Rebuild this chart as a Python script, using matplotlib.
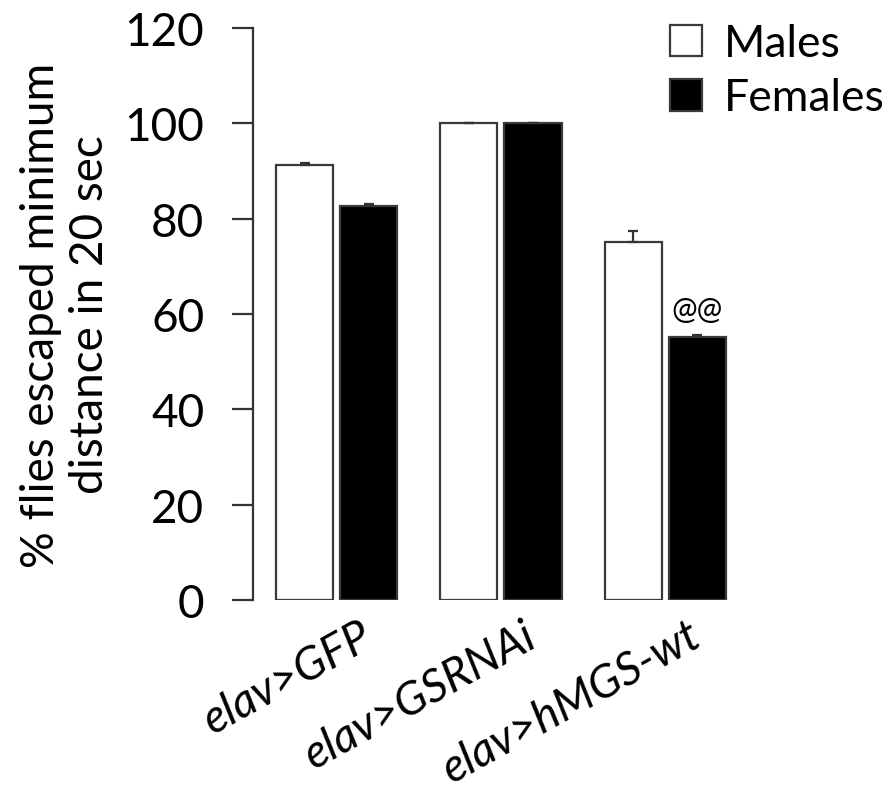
import numpy as np
import matplotlib
matplotlib.use("Agg")
import matplotlib.pyplot as plt
from matplotlib.transforms import ScaledTranslation

# values
groups = ["elav>GFP", "elav>GSRNAi", "elav>hMGS-wt"]
males = [91.3, 100, 75]
males_err = [0.3, 0, 2.5]
females = [82.7, 100, 55.1]
females_err = [0.3, 0, 0.4]

plt.rcParams["font.family"] = ["Lato", "DejaVu Sans"]

fig = plt.figure(figsize=(8.91, 8.04), dpi=100)
ax = fig.add_axes([0.284, 0.2525, 0.555, 0.7115])

x = np.arange(len(groups))
w = 0.347
off = 0.195
ekw = dict(ecolor="#333333", elinewidth=1.6, capsize=3.6, capthick=1.6)
zeros = [0] * len(groups)
ax.bar(x - off, males, w, yerr=[zeros, males_err], color="white", edgecolor="#3a3a3a",
       linewidth=1.6, error_kw=ekw, label="Males")
ax.bar(x + off, females, w, yerr=[zeros, females_err], color="black", edgecolor="#3a3a3a",
       linewidth=1.6, error_kw=ekw, label="Females")

ax.text(x[2] + off, 61, "@@", ha="center", va="center", fontsize=22)

ax.set_ylim(0, 120)
ax.set_xlim(-0.508, 2.5)
ax.set_yticks(np.arange(0, 121, 20))
ax.tick_params(axis="y", labelsize=33, length=15, width=1.6, color="#333333", pad=20)
ax.set_xticks(x)
ax.set_xticklabels(groups, rotation=29, ha="right", va="top", rotation_mode="anchor",
                   fontsize=33, style="italic")
ax.tick_params(axis="x", length=0, pad=10)
shift = ScaledTranslation(0.22, 0, fig.dpi_scale_trans)
for lbl in ax.get_xticklabels():
    lbl.set_transform(lbl.get_transform() + shift)
for s in ["top", "right", "bottom"]:
    ax.spines[s].set_visible(False)
ax.spines["left"].set_linewidth(1.6)
ax.spines["left"].set_color("#333333")

ax.set_ylabel("% flies escaped minimum\ndistance in 20 sec", fontsize=33, labelpad=10,
              linespacing=1.2)

ax.legend(loc="upper left", bbox_to_anchor=(0.707, 1.02), bbox_transform=fig.transFigure,
          frameon=False, fontsize=32, handlelength=0.72, handleheight=0.72,
          handletextpad=0.5, labelspacing=0.3)

fig.savefig("out.png", dpi=100)
